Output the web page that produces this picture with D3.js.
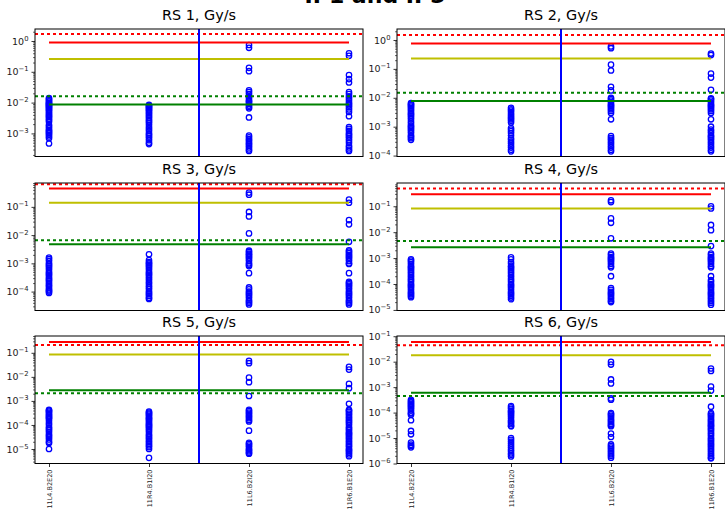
<!DOCTYPE html>
<html><head><meta charset="utf-8">
<script src="https://cdn.jsdelivr.net/npm/d3@7"></script>
<style>body{margin:0;background:#fff;overflow:hidden} svg{display:block;font-family:"DejaVu Sans",sans-serif}</style>
</head><body><svg id="c" width="725" height="509"></svg>
<script>
const figureTitle = "IP1 and IP5";
const categories = ["11L4.B2E20", "11R4.B1I20", "11L6.B2I20", "11R6.B1E20"];
const panelTitles = ["RS 1, Gy/s", "RS 2, Gy/s", "RS 3, Gy/s", "RS 4, Gy/s", "RS 5, Gy/s", "RS 6, Gy/s"];
const yLimits = [[1.78e-4, 2.45], [9.3e-5, 2.4], [2.14e-5, 0.70], [9.5e-6, 0.79], [2.5e-6, 0.5], [1e-6, 0.102]];
const redDotted   = [1.7, 1.5, 0.63, 0.48, 0.21, 0.044];
const redSolid    = [0.9, 0.76, 0.45, 0.29, 0.28, 0.059];
const yellowSolid = [0.26, 0.23, 0.14, 0.082, 0.085, 0.018];
const greenDotted = [0.016, 0.015, 0.0066, 0.0046, 0.0021, 0.00045];
const greenSolid  = [0.0087, 0.0078, 0.0047, 0.0026, 0.0028, 0.0006];
const splitPosition = 1.5;

const rs1Points = [
  [0.014,0.013,0.012,0.011,0.01,0.0095,0.009,0.0085,0.008,0.0075,0.007,0.0065,0.006,0.0055,0.005,0.0045,0.004,0.0037,0.0034,0.003,0.0027,0.0024,0.0019,0.0017,0.0015,0.0013,0.0012,0.0011,0.001,0.0009,0.0008,0.0007,0.00047],
  [0.0085,0.008,0.0075,0.007,0.0065,0.006,0.0055,0.005,0.0045,0.004,0.0036,0.0032,0.0028,0.0025,0.0022,0.0019,0.0016,0.0014,0.0012,0.001,0.0009,0.0008,0.0007,0.0006,0.0005,0.00045],
  [0.74,0.6,0.135,0.105,0.025,0.022,0.019,0.016,0.014,0.012,0.011,0.01,0.009,0.008,0.0072,0.0065,0.0033,0.00085,0.00075,0.00065,0.00058,0.0005,0.00045,0.0004,0.00035,0.0003,0.00027],
  [0.4,0.33,0.078,0.058,0.045,0.022,0.019,0.016,0.014,0.012,0.01,0.009,0.008,0.007,0.006,0.005,0.0036,0.0016,0.0014,0.0012,0.001,0.0009,0.0008,0.0007,0.0006,0.0005,0.0004,0.00035,0.0003,0.00027]
];
const rs2Points = [
  [0.0065,0.006,0.0055,0.005,0.0045,0.004,0.0035,0.003,0.0027,0.0024,0.0021,0.0018,0.0015,0.0013,0.0011,0.001,0.0009,0.0008,0.0007,0.0006,0.0005,0.00045,0.0004,0.00035],
  [0.0045,0.004,0.0036,0.0032,0.0028,0.0025,0.0022,0.002,0.0018,0.0016,0.0014,0.0009,0.0008,0.0007,0.0006,0.0005,0.0004,0.00035,0.0003,0.00026,0.00022,0.00019,0.00016,0.00014],
  [0.6,0.52,0.14,0.088,0.024,0.018,0.01,0.009,0.008,0.007,0.006,0.0055,0.005,0.0045,0.004,0.0035,0.003,0.0018,0.00047,0.0004,0.00035,0.0003,0.00026,0.00022,0.00019,0.00016,0.00014],
  [0.34,0.3,0.069,0.05,0.019,0.0096,0.009,0.008,0.007,0.006,0.0055,0.005,0.0045,0.004,0.0035,0.003,0.0018,0.001,0.0008,0.0007,0.0006,0.0005,0.00045,0.0004,0.00035,0.0003,0.00026,0.00022,0.00019,0.00016,0.00014]
];
const rs3Points = [
  [0.0016,0.0014,0.0012,0.001,0.0009,0.0008,0.0007,0.0006,0.0005,0.00045,0.0004,0.00035,0.0003,0.00027,0.00024,0.00021,0.00018,0.00016,0.00014,0.00012,0.00011,0.0001,0.00009],
  [0.0021,0.0013,0.0011,0.001,0.0009,0.0008,0.0007,0.0006,0.0005,0.00045,0.0004,0.00035,0.0003,0.00026,0.00022,0.00019,0.00016,0.00014,0.00012,0.0001,0.00009,0.00008,0.00007,0.00006,0.000055],
  [0.32,0.27,0.066,0.046,0.0115,0.0028,0.0025,0.0022,0.002,0.0018,0.0016,0.0014,0.0012,0.001,0.0009,0.0008,0.00045,0.00014,0.00012,0.0001,0.00009,0.00008,0.00007,0.00006,0.00005,0.000045,0.00004,0.000035],
  [0.18,0.14,0.034,0.024,0.0058,0.0029,0.0026,0.0023,0.002,0.0018,0.0016,0.0014,0.0012,0.001,0.00095,0.00045,0.00022,0.0002,0.00018,0.00016,0.00014,0.00012,0.0001,0.00009,0.00008,0.00007,0.00006,0.00005,0.000045,0.00004,0.000035]
];
const rs4Points = [
  [0.0009,0.0008,0.0007,0.0006,0.0005,0.00045,0.0004,0.00035,0.0003,0.00026,0.00022,0.00019,0.00016,0.00014,0.00012,0.0001,0.00009,0.00008,0.00007,0.00006,0.00005,0.000045,0.00004,0.000035,0.000031],
  [0.00107,0.0009,0.0007,0.0006,0.0005,0.00045,0.0004,0.00035,0.0003,0.00026,0.00022,0.00019,0.00016,0.00014,0.00012,0.0001,0.00009,0.00008,0.00007,0.00006,0.00005,0.000045,0.00004,0.000035,0.00003,0.000026],
  [0.17,0.145,0.034,0.023,0.0058,0.0015,0.0013,0.0011,0.001,0.0009,0.0008,0.0007,0.0006,0.0005,0.00044,0.0002,0.00007,0.00006,0.00005,0.000045,0.00004,0.000035,0.00003,0.000026,0.000022,0.00002],
  [0.1,0.082,0.019,0.012,0.0029,0.0015,0.0013,0.0011,0.001,0.0009,0.0008,0.0007,0.0006,0.0005,0.00044,0.0002,0.00014,0.00012,0.0001,0.00009,0.00008,0.00007,0.00006,0.00005,0.000045,0.00004,0.000035,0.00003,0.000026,0.000022,0.000019,0.000016]
];
const rs5Points = [
  [0.00043,0.0004,0.00036,0.00032,0.00028,0.00025,0.00022,0.0002,0.00018,0.00015,0.00012,0.0001,0.00008,0.00007,0.00006,0.00005,0.00004,0.000035,0.00003,0.000025,0.00002,0.000018,0.00001],
  [0.00036,0.00033,0.0003,0.00027,0.00024,0.00021,0.00019,0.00017,0.00015,0.00013,0.00011,0.0001,0.00009,0.00008,0.00007,0.00006,0.00005,0.00004,0.000035,0.00003,0.000026,0.000022,0.000019,0.000016,0.000014,0.000012,0.00001,0.0000043],
  [0.046,0.037,0.0093,0.006,0.0016,0.00043,0.00038,0.00033,0.00029,0.00025,0.00022,0.00019,0.00016,0.00014,0.000058,0.000018,0.000016,0.000014,0.000012,0.00001,0.000009,0.000008,0.000007,0.0000064],
  [0.026,0.02,0.0051,0.0034,0.00076,0.00043,0.0004,0.00035,0.0003,0.00026,0.00022,0.00019,0.00016,0.00014,0.00012,0.0001,0.00008,0.00007,0.00006,0.00005,0.000045,0.00004,0.000035,0.00003,0.000026,0.000022,0.000019,0.000016,0.000014,0.000012,0.00001,0.000009,0.000008,0.000007,0.000006,0.000005]
];
const rs6Points = [
  [0.00032,0.00028,0.00025,0.00022,0.0002,0.00018,0.00016,0.00014,0.00012,0.0001,0.000092,0.000083,0.00005,0.000019,0.000014,0.0000066,0.0000055,0.0000049,0.0000043],
  [0.00018,0.00016,0.00014,0.00012,0.00011,0.0001,0.00009,0.00008,0.00007,0.00006,0.00005,0.000045,0.00004,0.000035,0.00003,0.000029,0.00001,0.0000085,0.0000072,0.000006,0.000005,0.0000042,0.0000035,0.000003,0.0000025,0.0000022,0.0000019],
  [0.0098,0.0077,0.002,0.0014,0.00036,0.00032,0.000095,0.000085,0.000075,0.000065,0.000055,0.000048,0.000042,0.000036,0.000032,0.000029,0.000015,0.000011,0.0000056,0.0000048,0.0000042,0.0000036,0.0000031,0.0000027,0.0000023,0.000002,0.0000017],
  [0.0054,0.0043,0.00105,0.00073,0.00017,0.000095,0.000085,0.000075,0.000065,0.000055,0.000048,0.000042,0.000036,0.000032,0.000029,0.000025,0.000022,0.000019,0.000016,0.000014,0.000012,0.00001,0.0000088,0.0000076,0.0000066,0.0000057,0.000005,0.0000043,0.0000037,0.0000032,0.0000027,0.0000023,0.000002,0.0000017,0.0000016]
];
const pointSets = [rs1Points, rs2Points, rs3Points, rs4Points, rs5Points, rs6Points];

const svg = d3.select("#c");
const W = 328, H = 127.5;
const lefts = [35, 397], tops = [29, 183, 336];

svg.append("text").attr("x", 375).attr("y", 2.5).attr("text-anchor", "middle")
  .attr("font-weight", "bold").attr("font-size", 22).attr("fill", "#000").text(figureTitle);

panelTitles.forEach((title, i) => {
  const col = i % 2, row = Math.floor(i / 2);
  const g = svg.append("g").attr("transform", `translate(${lefts[col]},${tops[row]})`);
  const x = d3.scaleLinear().domain([-0.14, 3.14]).range([0, W]);
  const y = d3.scaleLog().domain(yLimits[i]).range([H, 0]);

  const clipId = "clip" + i;
  g.append("clipPath").attr("id", clipId).append("rect").attr("width", W).attr("height", H);
  const plot = g.append("g").attr("clip-path", `url(#${clipId})`);

  pointSets[i].forEach((vals, ci) => {
    plot.append("g").selectAll("circle").data(vals).join("circle")
      .attr("cx", x(ci)).attr("cy", d => y(d)).attr("r", 2.7)
      .attr("fill", "none").attr("stroke", "#0000ff").attr("stroke-width", 1.3);
  });

  const line = (v, x0, x1, color, dotted) => {
    const l = plot.append("line").attr("x1", x0).attr("x2", x1)
      .attr("y1", y(v)).attr("y2", y(v)).attr("stroke", color).attr("stroke-width", 2);
    if (dotted) l.attr("stroke-dasharray", "3,3");
  };
  line(redSolid[i], x(0), x(3), "#ff0000", false);
  line(yellowSolid[i], x(0), x(3), "#bfbf00", false);
  line(greenSolid[i], x(0), x(3), "#008000", false);
  line(redDotted[i], 0, W, "#ff0000", true);
  line(greenDotted[i], 0, W, "#008000", true);

  plot.append("line").attr("x1", x(splitPosition)).attr("x2", x(splitPosition))
    .attr("y1", 0).attr("y2", H).attr("stroke", "#0000ff").attr("stroke-width", 2);

  const [lo, hi] = yLimits[i];
  const majors = [], minors = [];
  for (let e = Math.floor(Math.log10(lo)); e <= Math.ceil(Math.log10(hi)); e++) {
    for (let m = 1; m <= 9; m++) {
      const v = m * Math.pow(10, e);
      if (v < lo * 0.999 || v > hi * 1.001) continue;
      (m === 1 ? majors : minors).push(v);
    }
  }
  const minorAx = g.append("g").call(d3.axisLeft(y).tickValues(minors).tickSize(2).tickFormat(""));
  minorAx.select(".domain").remove();
  minorAx.selectAll("line").attr("stroke", "#000").attr("stroke-width", 0.6);
  const majorAx = g.append("g").call(d3.axisLeft(y).tickValues(majors).tickSize(3.5).tickPadding(3));
  majorAx.select(".domain").remove();
  majorAx.selectAll("line").attr("stroke", "#000").attr("stroke-width", 0.8);
  majorAx.selectAll(".tick text").each(function(d) {
    const e = Math.round(Math.log10(d));
    const t = d3.select(this);
    t.text(null).attr("font-size", 9.5).attr("font-family", "DejaVu Sans").attr("fill", "#222");
    t.append("tspan").text("10");
    t.append("tspan").attr("dy", -4).attr("font-size", 6.8).text(e < 0 ? "\u2212" + (-e) : String(e));
  });

  if (row === 2) {
    const xa = g.append("g").attr("transform", `translate(0,${H})`)
      .call(d3.axisBottom(x).tickValues([0, 1, 2, 3]).tickSize(3.5).tickFormat(d => categories[d]));
    xa.select(".domain").remove();
    xa.selectAll("line").attr("stroke", "#000").attr("stroke-width", 0.8);
    xa.selectAll("text").attr("transform", "rotate(-90)").attr("text-anchor", "end")
      .attr("x", -6).attr("y", 0).attr("dy", "0.35em").attr("font-size", 6.5)
      .attr("font-family", "DejaVu Sans").attr("fill", "#222");
  }

  g.append("rect").attr("width", W).attr("height", H).attr("fill", "none")
    .attr("stroke", "#000").attr("stroke-width", 1);

  g.append("text").attr("x", W / 2).attr("y", -9.5).attr("text-anchor", "middle")
    .attr("font-size", 14.4).attr("fill", "#000").text(title);
});
</script>
</body></html>
